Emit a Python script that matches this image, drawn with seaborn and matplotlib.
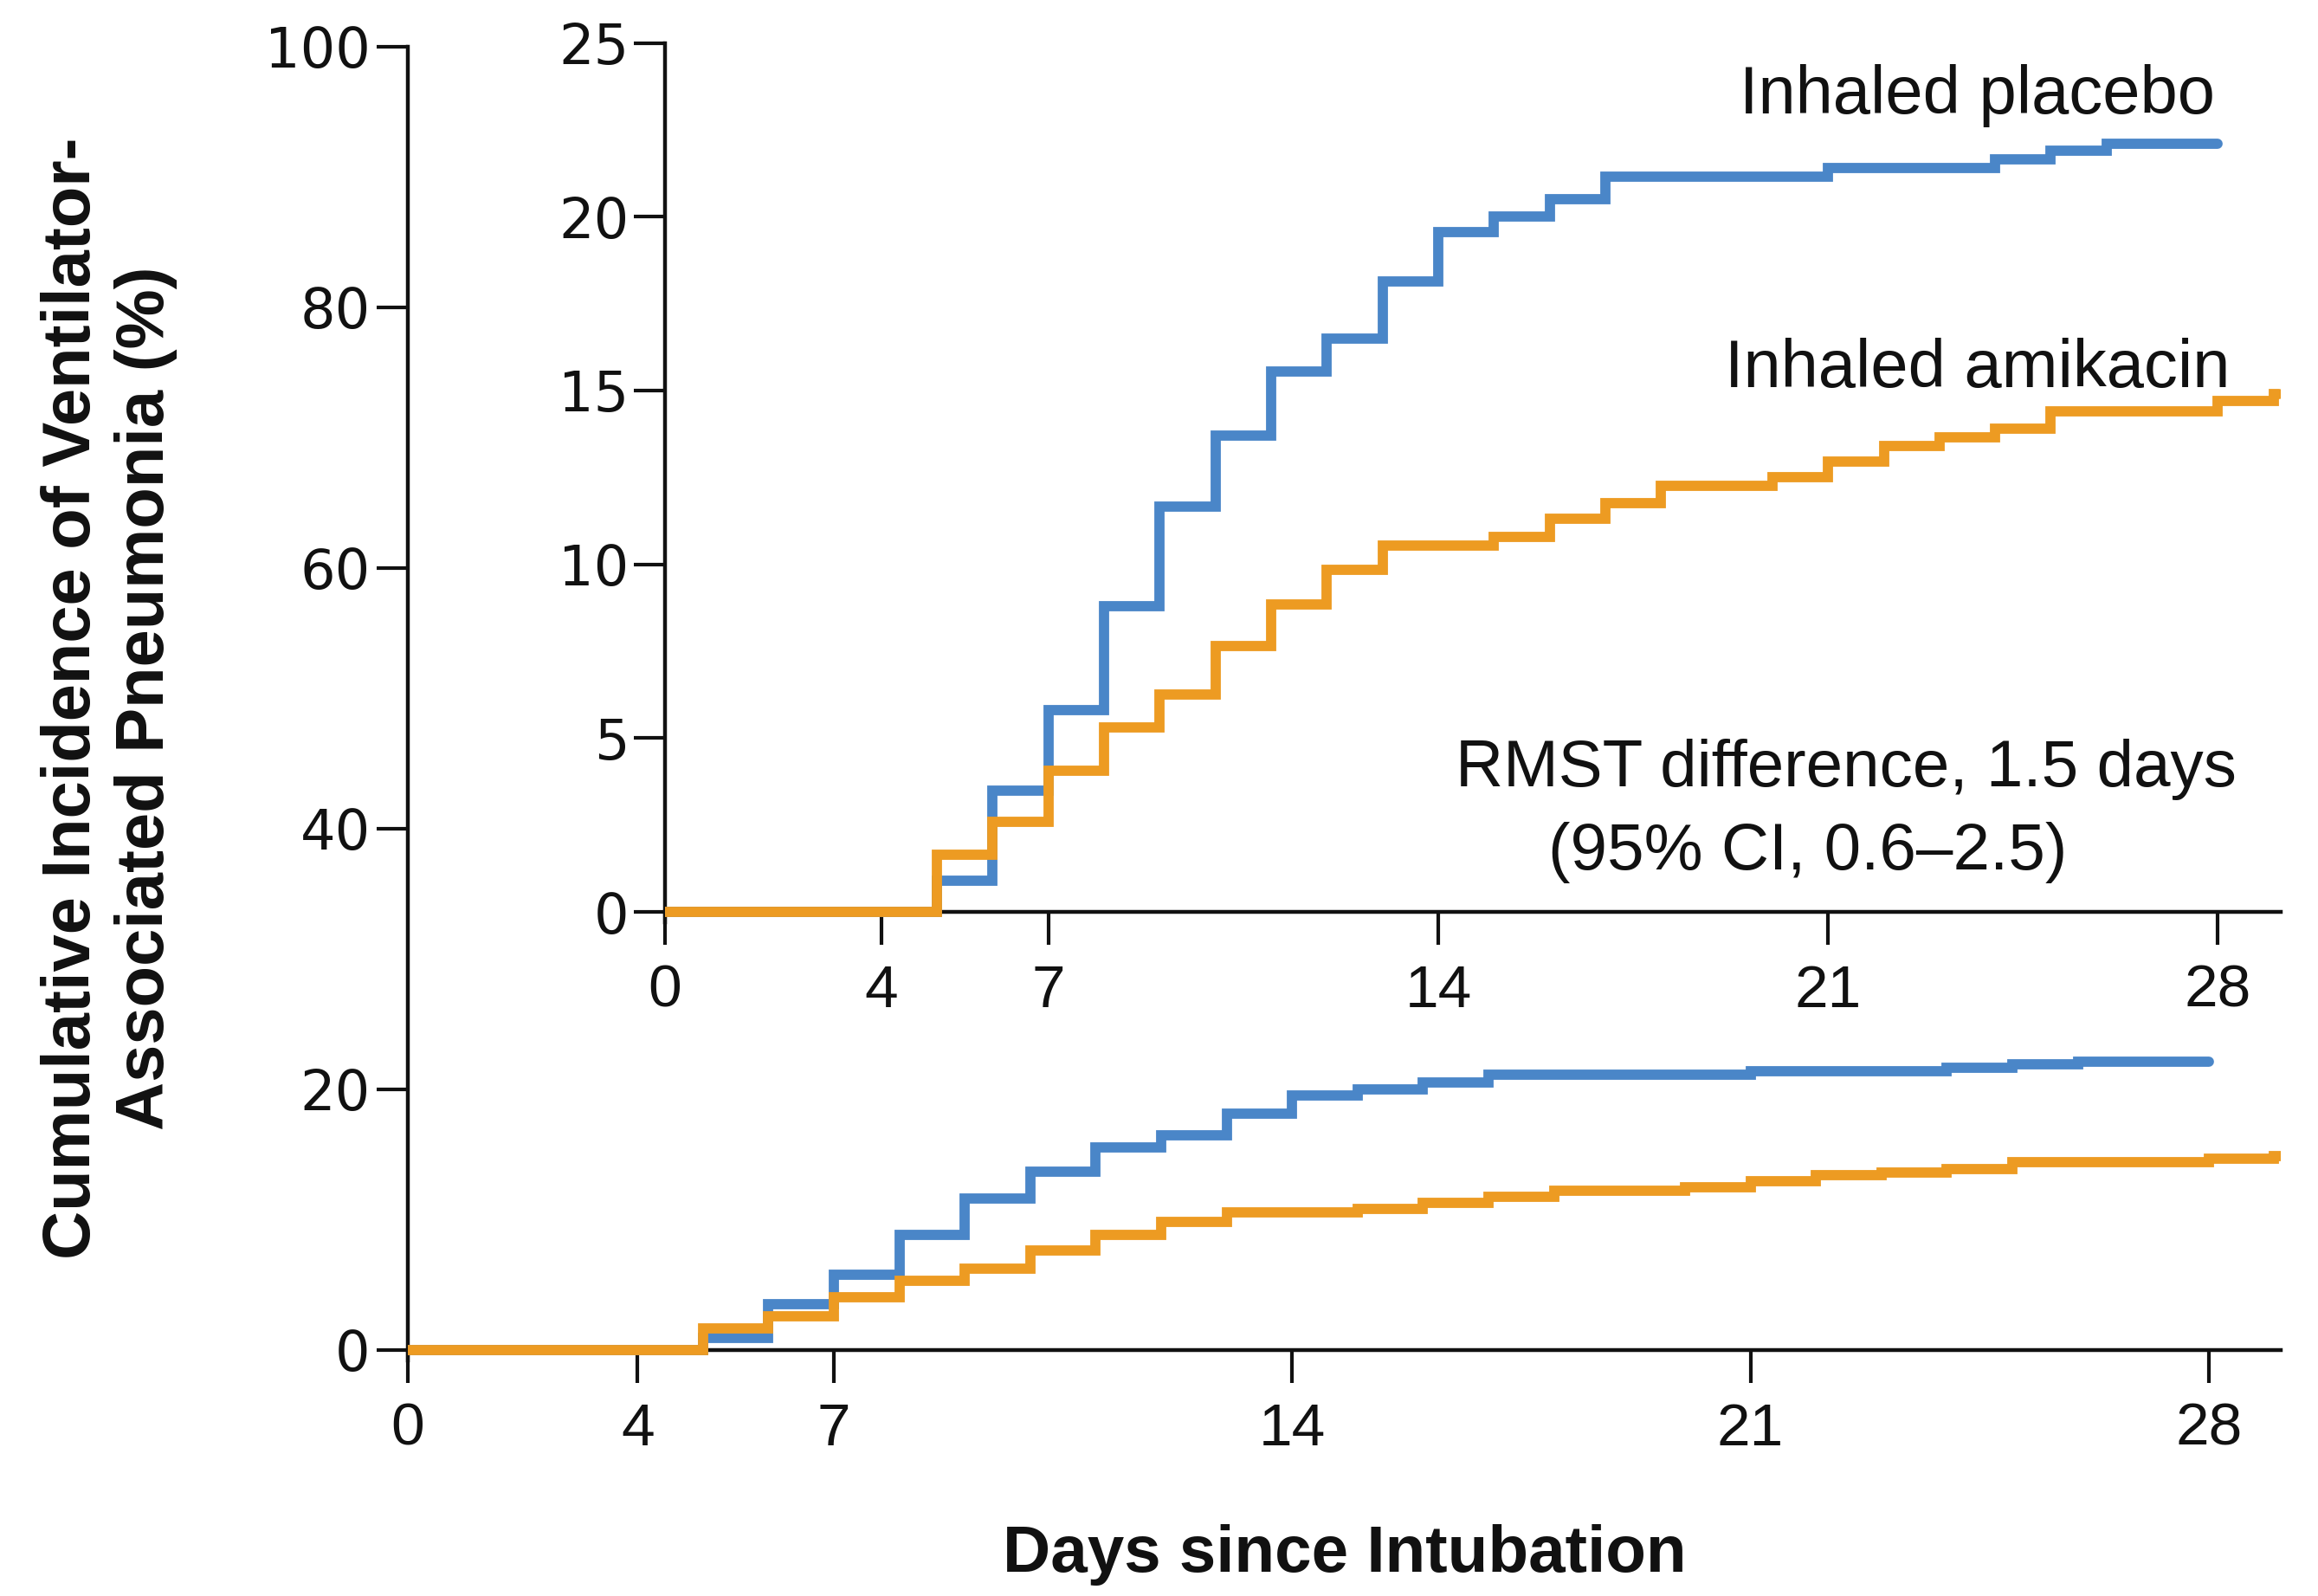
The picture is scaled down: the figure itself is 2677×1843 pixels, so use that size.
import numpy as np
import pandas as pd
import matplotlib
matplotlib.use("Agg")
import matplotlib.pyplot as plt
import seaborn as sns

# ---------------- data ----------------
groups = ["Inhaled placebo", "Inhaled amikacin"]
days_placebo = [0, 5, 6, 7, 8, 9, 10, 11, 12, 13, 14, 15, 16, 17, 21, 24, 25, 26, 28]
placebo = [0, 0.9, 3.5, 5.8, 8.8, 11.65, 13.7, 15.55, 16.5, 18.15, 19.55, 20.0,
           20.5, 21.15, 21.4, 21.65, 21.9, 22.1, 22.1]
days_amikacin = [0, 5, 6, 7, 8, 9, 10, 11, 12, 13, 15, 16, 17, 18, 20, 21, 22, 23,
                 24, 25, 28, 29, 29.1]
amikacin = [0, 1.65, 2.6, 4.05, 5.3, 6.25, 7.65, 8.85, 9.85, 10.55, 10.8, 11.3,
            11.75, 12.25, 12.5, 12.95, 13.4, 13.65, 13.9, 14.4, 14.7, 14.9, 14.9]
x_tick_labels = ["0", "4", "7", "14", "21", "28"]
x_tick_days = [4, 7, 14, 21, 28]
main_yticks = [0, 20, 40, 60, 80, 100]
inset_yticks = [0, 5, 10, 15, 20, 25]
colors = {"Inhaled placebo": "#4A86C8", "Inhaled amikacin": "#ED9B22"}

df = pd.concat([
    pd.DataFrame({"day": days_placebo, "pct": placebo, "group": groups[0]}),
    pd.DataFrame({"day": days_amikacin, "pct": amikacin, "group": groups[1]}),
], ignore_index=True)

# ---------------- style ----------------
sns.set_style("ticks")
plt.rcParams["font.family"] = ["Liberation Sans", "DejaVu Sans"]
plt.rcParams["axes.linewidth"] = 3.2

fig = plt.figure(figsize=(26.77, 18.43), dpi=100)
fig.patch.set_facecolor("white")

ax = fig.add_axes([0.1759, 0.1476, 0.808, 0.8231])
ins = fig.add_axes([0.2869, 0.4221, 0.6971, 0.5510])

def draw(a, xlo, xhi, ylo, yhi, yticks, xpad, ypad):
    sns.lineplot(data=df, x="day", y="pct", hue="group", hue_order=groups,
                 palette=colors, estimator=None, drawstyle="steps-post",
                 linewidth=8.5, legend=False, ax=a, zorder=3,
                 solid_capstyle="round", solid_joinstyle="miter")
    a.set_xlim(xlo, xhi)
    a.set_ylim(ylo, yhi)
    a.set_facecolor("none")
    for s in ["top", "right"]:
        a.spines[s].set_visible(False)
    a.spines["bottom"].set_position(("data", 0))
    a.spines["bottom"].set_zorder(2)
    a.spines["left"].set_zorder(2)
    for s in ["bottom", "left"]:
        a.spines[s].set_color("#111111")
    a.set_xticks([xlo] + x_tick_days)
    a.set_xticklabels(x_tick_labels, fontsize=50, family=["Liberation Sans"],
                      color="#111111")
    a.set_yticks(yticks)
    a.set_yticklabels([str(t) for t in yticks], fontsize=46,
                      family=["DejaVu Sans"], color="#111111")
    a.tick_params(axis="x", length=27, width=3, pad=xpad, color="#111111")
    a.tick_params(axis="y", length=26, width=3, pad=ypad, color="#111111")
    a.set_xlabel("")
    a.set_ylabel("")
    a.grid(False)

draw(ax, 0.49, 29.1, -0.8, 100, main_yticks, 16, 5)
draw(ins, 0.12, 29.13, -0.3, 25, inset_yticks, 16, 4)

# axis labels
ax.set_xlabel("Days since Intubation", fontsize=55, fontweight="bold",
              color="#111111")
ax.xaxis.set_label_coords(0.5, -0.1483)
ax.xaxis.label.set_va("center")
ax.set_ylabel("Cumulative Incidence of Ventilator-\nAssociated Pneumonia (%)",
              fontsize=56, fontweight="bold", linespacing=1.22, color="#111111")
ax.yaxis.set_label_coords(-0.1595, 0.5043)
ax.yaxis.label.set_va("center")
ax.yaxis.label.set_ha("center")

# inset annotations
ins.text(27.94, 22.96, "Inhaled placebo", ha="right", va="baseline",
         fontsize=56, color="#111111")
ins.text(28.22, 15.10, "Inhaled amikacin", ha="right", va="baseline",
         fontsize=56, color="#111111")
ins.text(28.34, 3.61, "RMST difference, 1.5 days", ha="right", va="baseline",
         fontsize=55, color="#111111")
ins.text(15.98, 1.22, "(95% CI, 0.6\u20132.5)", ha="left", va="baseline",
         fontsize=55, color="#111111")

fig.savefig("out.png", dpi=100, facecolor="white")
